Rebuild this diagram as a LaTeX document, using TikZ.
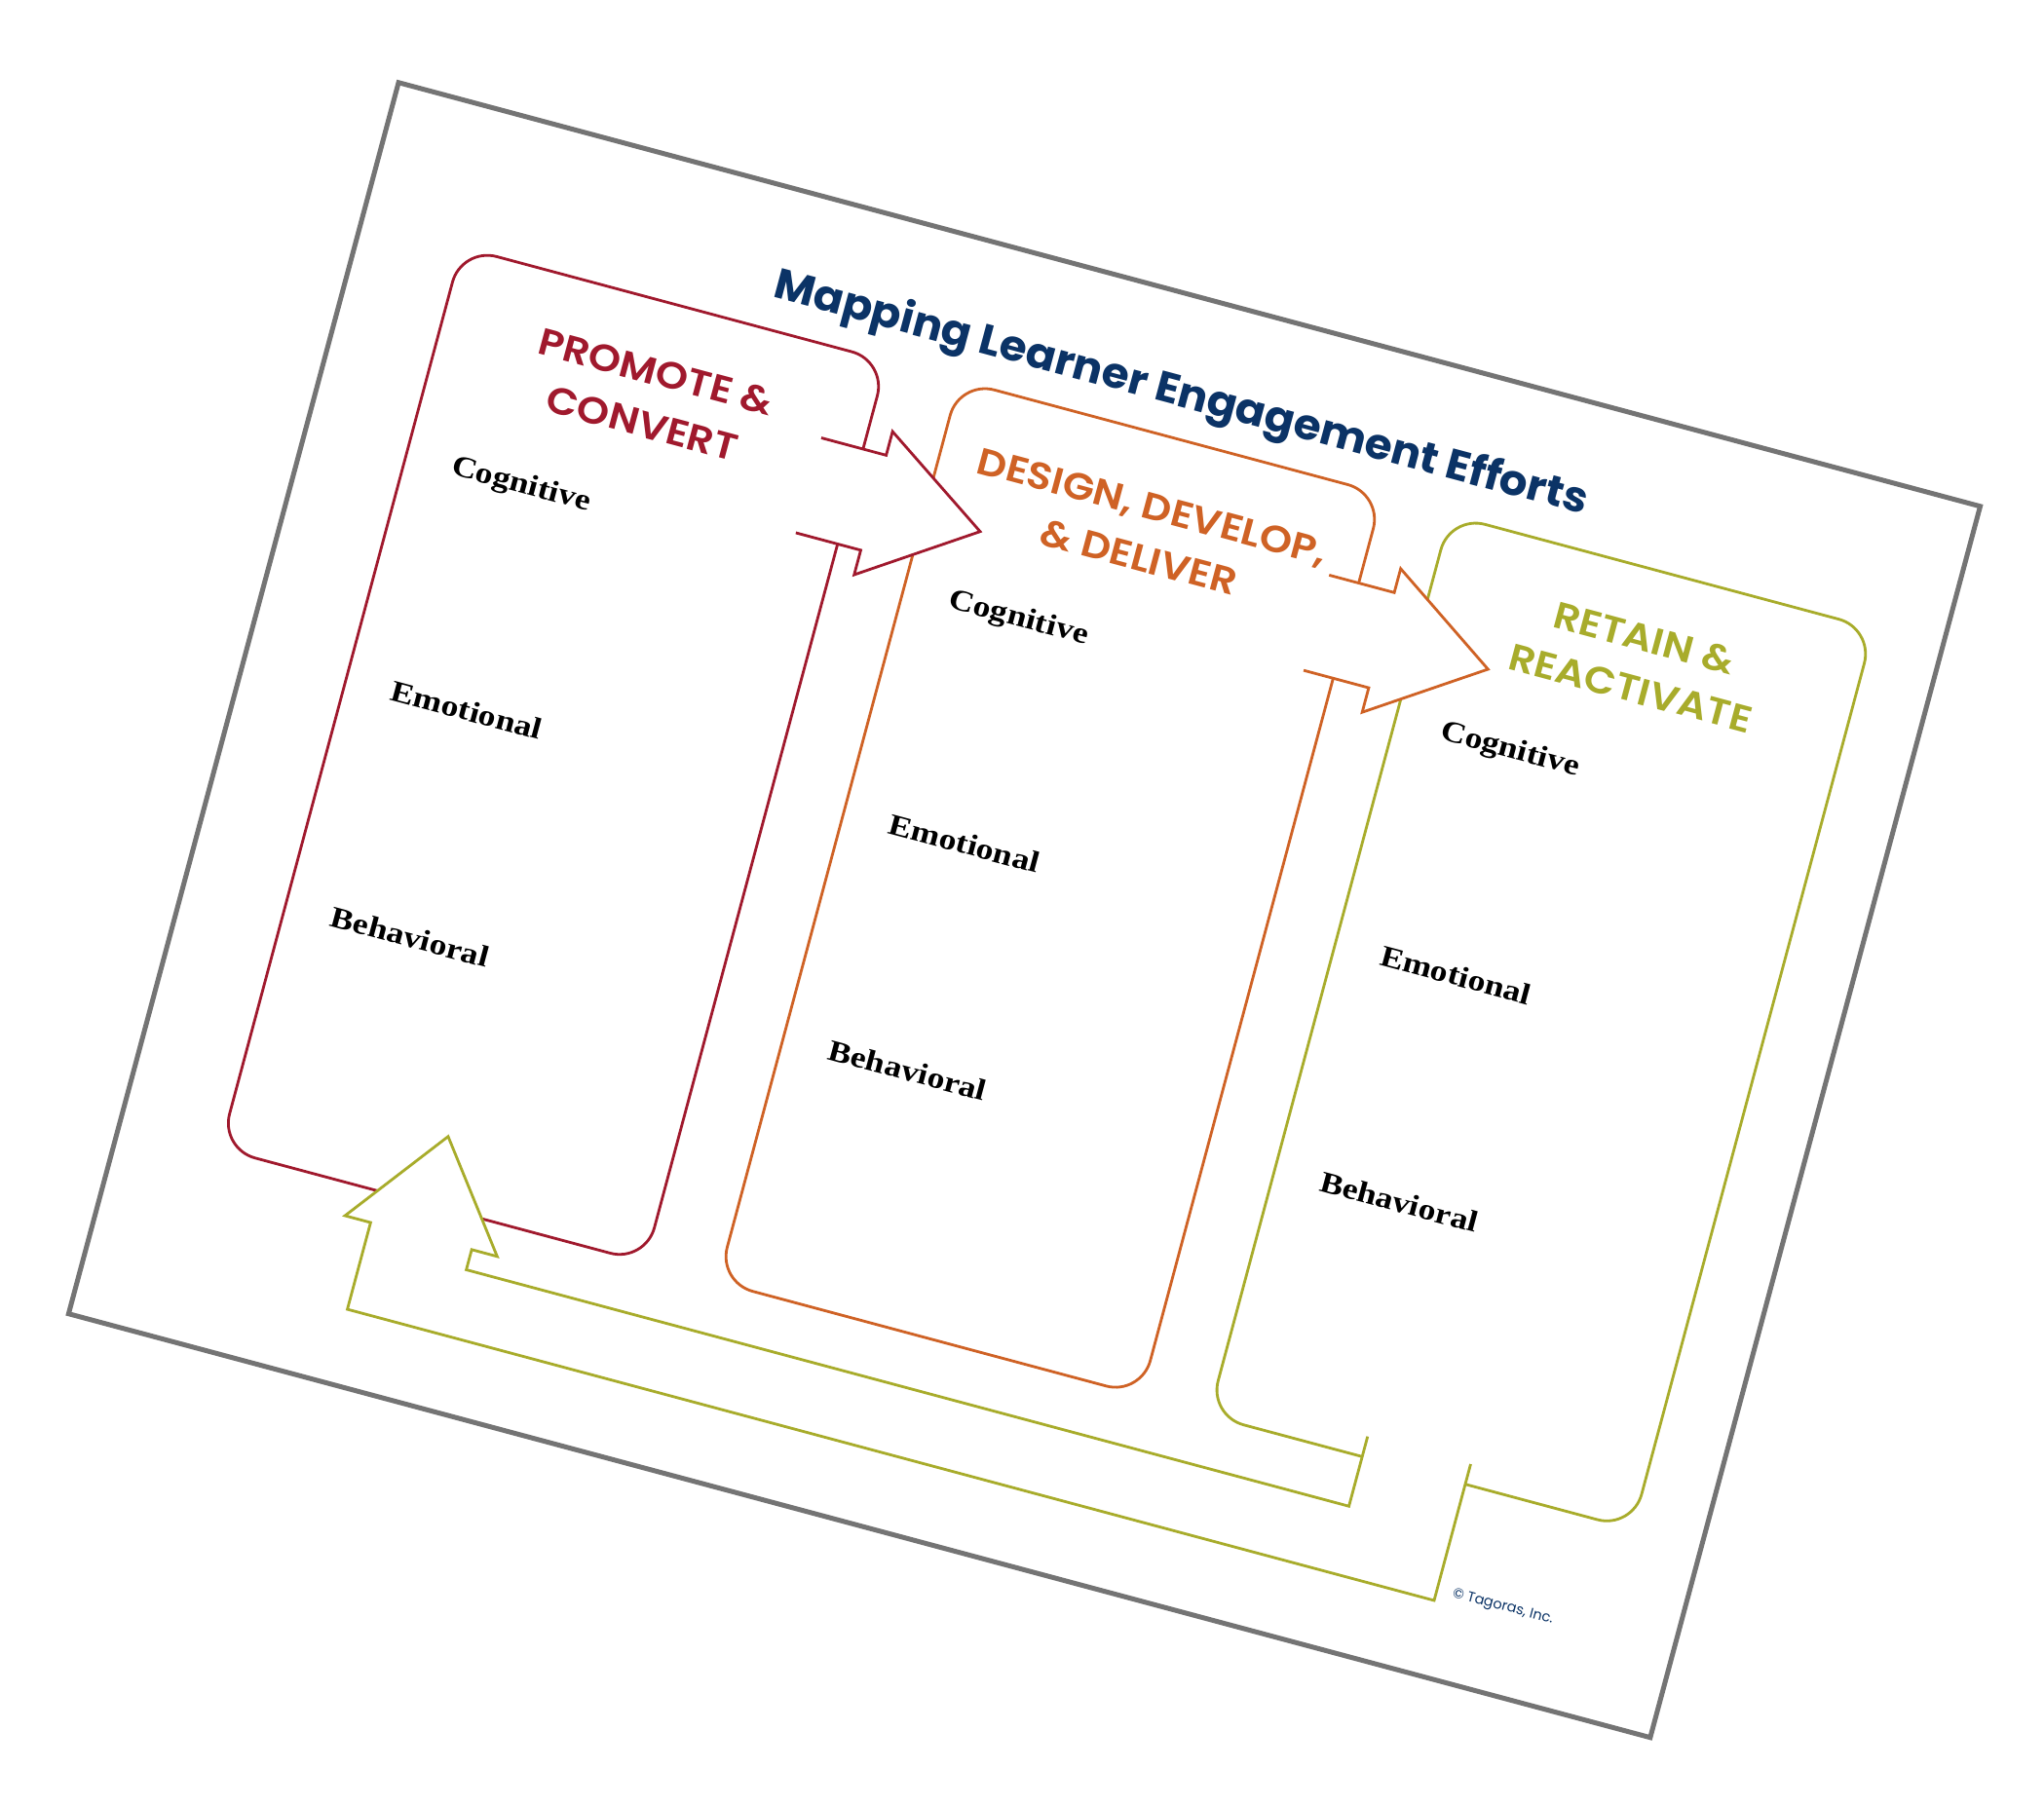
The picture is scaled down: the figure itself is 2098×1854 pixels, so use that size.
\documentclass[tikz,border=0pt]{standalone}
\usepackage{fontspec}
\newfontfamily\popb{Poppins}
\newfontfamily\popt{Poppins}[FakeStretch=1.04]
\newfontfamily\popsb{Poppins SemiBold}[FakeStretch=1.1]
\newfontfamily\labf{Liberation Serif}[FakeStretch=1.17]
\definecolor{redc}{HTML}{A0192D}
\definecolor{orangec}{HTML}{CF6225}
\definecolor{greenc}{HTML}{A8AC2B}
\definecolor{navyc}{HTML}{0B3366}
\definecolor{framec}{HTML}{747474}
\tikzset{
  boxshape/.style={draw, line width=2.8pt, rounded corners=37pt, inner sep=0pt},
  arrowshape/.style={line width=2.8pt, fill=white, line join=miter},
  lab/.style={font=\labf\bfseries\fontsize{30.5}{36}\selectfont, anchor=base west, inner sep=0pt, text=black},
  ttl/.style={font=\popsb\fontsize{38.5}{44}\selectfont, anchor=base, inner sep=0pt},
}
\begin{document}
\begin{tikzpicture}[x=1pt,y=1pt]
\useasboundingbox (0,0) rectangle (2098,-1854);
\fill[white] (0,0) rectangle (2098,-1854);
\begin{scope}[shift={(407.3,-81.7)}, rotate=-15, transform shape]
  % frame
  \node[draw=framec, line width=5pt, inner sep=0pt, minimum width=1680.7pt, minimum height=1308.5pt, anchor=north west] (frame) at (0,0) {};
  % boxes
  \node[boxshape, draw=redc, minimum width=451.4pt, minimum height=958pt] (promote) at (334.7,-628) {};
  \node[boxshape, draw=orangec, minimum width=449.6pt, minimum height=958pt] (design) at (862.6,-628) {};
  \node[boxshape, draw=greenc, minimum width=450pt, minimum height=957pt] (retain) at (1385,-630.5) {};
  % arrows
  \coordinate (a1) at (516,-242.5);
  \draw[arrowshape, draw=redc] (a1) -- ++(69,0) -- ++(0,25.2) -- (698.4,-293.2) -- (585,-369.5) -- ++(0,26.1) -- (516,-343.4);
  \coordinate (a2) at (1056,-243.7);
  \draw[arrowshape, draw=orangec] (a2) -- ++(69.2,0) -- ++(0,25.4) -- (1238.5,-294.8) -- (1125.2,-370.9) -- ++(0,26) -- (1056,-344.9);
  \coordinate (a3) at (1323,-1087.6);
  \draw[arrowshape, draw=greenc] (a3) -- (1323,-1161.7) -- (385.1,-1161.7) -- (385.1,-1140.3) -- (412.2,-1140.3) -- (331.7,-1034.4) -- (250.5,-1140.3) -- (277.7,-1140.3) -- (277.7,-1232.5) -- (1432.5,-1232.5) -- (1432.5,-1087.6);
  % title
  \node[anchor=base, inner sep=0pt, text=navyc, font=\popt\bfseries\fontsize{43.5}{50}\selectfont] (title) at (861,-116) {Mapping Learner Engagement Efforts};
  % box titles
  \node[ttl, text=redc] (t1a) at (334.7,-234.5) {PROMOTE \&};
  \node[ttl, text=redc] (t1b) at (334.7,-289.5) {CONVERT};
  \node[ttl, text=orangec] (t2a) at (862.6,-236) {DESIGN, DEVELOP,};
  \node[ttl, text=orangec] (t2b) at (862.6,-290) {\& DELIVER};
  \node[ttl, text=greenc] (t3a) at (1385,-236) {RETAIN \&};
  \node[ttl, text=greenc] (t3b) at (1385,-289.5) {REACTIVATE};
  % labels
  \node[lab] (c1) at (157.5,-377) {Cognitive};
  \node[lab] (e1) at (157.5,-617) {Emotional};
  \node[lab] (b1) at (157.5,-857) {Behavioral};
  \node[lab] (c2) at (686.3,-377) {Cognitive};
  \node[lab] (e2) at (686.3,-617) {Emotional};
  \node[lab] (b2) at (686.3,-857) {Behavioral};
  \node[lab] (c3) at (1208.5,-377) {Cognitive};
  \node[lab] (e3) at (1208.5,-617) {Emotional};
  \node[lab] (b3) at (1208.5,-857) {Behavioral};
  % copyright
  \node[anchor=base west, inner sep=0pt, text=navyc, font=\popb\fontsize{14.5}{17}\selectfont] (copy) at (1449,-1224) {\textcopyright{} Tagoras, Inc.};
\end{scope}
\end{tikzpicture}
\end{document}
